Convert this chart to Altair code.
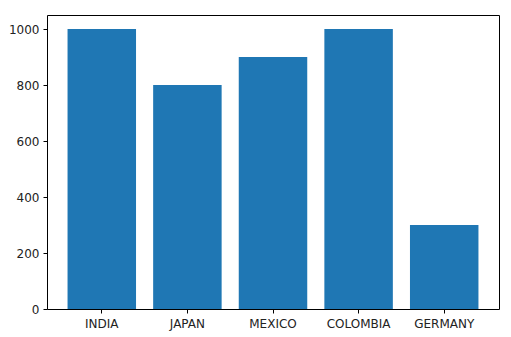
import altair as alt
import pandas as pd

countries = ["INDIA", "JAPAN", "MEXICO", "COLOMBIA", "GERMANY"]
values = [1000, 800, 900, 1000, 300]
y_ticks = [0, 200, 400, 600, 800, 1000]

df = pd.DataFrame({"country": countries, "value": values})

chart = alt.Chart(df).mark_bar(color="#1f77b4").encode(
    x=alt.X("country:N", sort=countries, title=None,
            scale=alt.Scale(paddingInner=0.2, paddingOuter=0.24),
            axis=alt.Axis(labelAngle=0, domain=False, tickColor="#000", tickSize=4,
                          labelPadding=5, labelFontSize=12, labelColor="#222",
                          labelFont="DejaVu Sans")),
    y=alt.Y("value:Q", title=None,
            scale=alt.Scale(domain=[0, 1050], nice=False, zero=True),
            axis=alt.Axis(values=y_ticks, format="d", grid=False, domain=False, tickColor="#000",
                          tickSize=4, labelPadding=4, labelFontSize=12, labelColor="#222",
                          labelFont="DejaVu Sans")),
).properties(
    width=452, height=294,
    autosize="none",
    padding={"left": 47, "top": 15, "right": 12, "bottom": 28},
).configure(
    background="white",
    view=alt.ViewConfig(stroke="#000", strokeWidth=1),
)

chart.save("out.html", embed_options={"renderer": "svg", "actions": False})
